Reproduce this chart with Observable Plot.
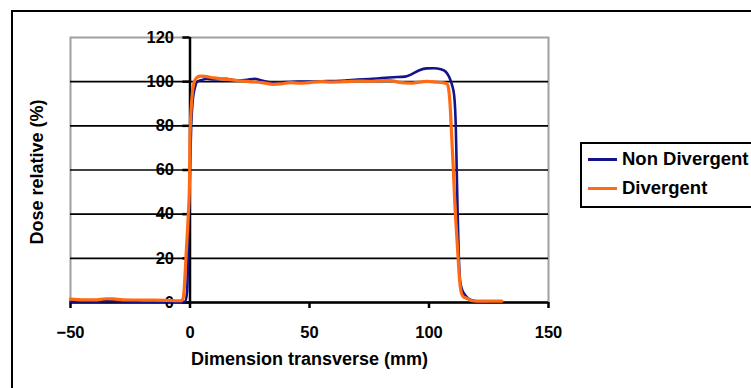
<!DOCTYPE html>
<html><head><meta charset="utf-8">
<script src="https://cdn.jsdelivr.net/npm/d3@7"></script>
<script src="https://cdn.jsdelivr.net/npm/@observablehq/plot@0.6"></script>
<style>
body{margin:0;background:#fff;font-family:"Liberation Sans",Arial,sans-serif;}
#wrap{position:relative;width:751px;height:388px;overflow:hidden;background:#fff;}
#wrap svg{position:absolute;left:0;top:0;}
#border{position:absolute;left:11px;top:10px;width:800px;height:420px;border:2.5px solid #000;box-sizing:border-box;pointer-events:none;}
#legend{position:absolute;left:580px;top:142px;width:220px;height:66px;border:2.5px solid #000;box-sizing:border-box;background:#fff;}
.row{position:absolute;left:6px;height:20px;display:flex;align-items:center;font-weight:bold;font-size:18.5px;color:#000;white-space:nowrap;}
.sw{width:29px;height:3px;margin-right:5px;}
</style>
</head><body>
<div id="wrap"></div>
<script>
const seriesNames = ["Non Divergent", "Divergent"];
const xTicks = [-50, 0, 50, 100, 150];
const yTicks = [0, 20, 40, 60, 80, 100, 120];
const xTitle = "Dimension transverse (mm)";
const yTitle = "Dose relative (%)";

const nonDivX = [-50,-45,-40,-35,-30,-20,-10,-5,-3,-2,-1.2,-0.8,-0.4,0,0.5,1.2,2,3,5,7,10,15,20,24,27,30,35,40,45,50,55,60,65,70,75,80,85,90,93,96,99,102,105,107,108.5,109.5,110.5,111.2,111.6,112,112.5,113,113.8,115,116.5,118,120,125];
const nonDivY = [0.4,0.5,0.4,0.6,0.5,0.4,0.4,0.3,0.3,0.5,5,20,40,60,80,92,97,100,100.8,101.3,101,101.3,100.5,100.8,101.3,100.5,99.5,99.8,100,100,100.2,100.3,100.5,101,101.2,101.6,102,102.3,103.5,105.2,106,106.1,105.6,104.5,102,99,94,80,60,40,20,10,6,3.5,1.8,1,0.5,0.4];

const divX = [-50,-45,-40,-35,-32,-28,-20,-10,-5,-4,-3,-2.5,-2,-1.7,-1.2,-0.7,-0.2,0,0.5,1,1.8,3,4.2,6,10,15,20,25,30,35,38,42,46,50,55,59,65,70,75,80,84,87,92,96,99,103,106,107.5,108,108.8,109.5,110.2,110.8,111.5,112.2,112.8,113.4,114.2,116,118,120,125,130.5];
const divY = [1.5,1.2,1.2,1.7,1.6,1.2,1.1,1.0,0.8,0.8,1.5,5,14,20,30,40,55,75,88,95,100,102,102.5,102.4,101.7,101,100.5,100,99.6,98.8,99,99.6,99.3,99.6,100,99.8,100,100.3,100.2,100.4,100.5,99.8,99.3,99.8,100.1,99.8,99.5,99,98,90,75,60,45,32,20,10,5,2.8,1.8,0.8,0.6,0.6,0.6];

const colors = ["#14148a", "#ff6a14"];

const rows = [
  ...nonDivX.map((x, i) => ({x, y: nonDivY[i], s: seriesNames[0]})),
  ...divX.map((x, i) => ({x, y: divY[i], s: seriesNames[1]}))
];

const plot = Plot.plot({
  width: 751, height: 388,
  marginLeft: 70, marginRight: 203, marginTop: 37, marginBottom: 86,
  style: {background: "transparent", color: "black", fontFamily: "'Liberation Sans', Arial, sans-serif"},
  x: {domain: [-50, 150]},
  y: {domain: [0, 120], axis: null},
  color: {domain: seriesNames, range: colors},
  marks: [
    Plot.frame({stroke: "#a0a0a0", strokeWidth: 2}),
    Plot.ruleY(yTicks.filter(v => v > 0 && v < 120), {stroke: "black", strokeWidth: 1.6}),
    Plot.ruleY(yTicks, {x1: -3, x2: 0, stroke: "black", strokeWidth: 2.5}),
    Plot.ruleX([0], {y1: 0, y2: 120, stroke: "black", strokeWidth: 2.5}),
    Plot.axisX(xTicks, {tickSize: 6, tickPadding: 18, fontSize: 16.5, fontWeight: "bold", label: null, stroke: "black", strokeWidth: 2.5, fill: "black"}),
    Plot.ruleY([0], {stroke: "black", strokeWidth: 2.5}),
    Plot.text(yTicks, {x: 0, y: d => d, text: d => String(d), textAnchor: "end", dx: -16, fontSize: 16.5, fontWeight: "bold", fill: "black"}),
    Plot.line(rows.filter(d => d.s === seriesNames[0]), {x: "x", y: "y", stroke: "s", strokeWidth: 2.6, curve: "monotone-x"}),
    Plot.line(rows.filter(d => d.s === seriesNames[1]), {x: "x", y: "y", stroke: "s", strokeWidth: 3.2, curve: "monotone-x"}),
    Plot.text([xTitle], {frameAnchor: "bottom", dy: 62, text: d => d, fontSize: 18, fontWeight: "bold", fill: "black"}),
    Plot.text([yTitle], {frameAnchor: "left", textAnchor: "middle", dx: -33, dy: 2, rotate: -90, text: d => d, fontSize: 18, fontWeight: "bold", fill: "black"})
  ]
});

const wrap = document.getElementById("wrap");
wrap.appendChild(plot);
const border = document.createElement("div");
border.id = "border";
wrap.appendChild(border);
const legend = document.createElement("div");
legend.id = "legend";
seriesNames.forEach((name, i) => {
  const row = document.createElement("div");
  row.className = "row";
  row.style.top = (i === 0 ? 5 : 34) + "px";
  const sw = document.createElement("span");
  sw.className = "sw";
  sw.style.background = colors[i];
  row.appendChild(sw);
  row.appendChild(document.createTextNode(name));
  legend.appendChild(row);
});
wrap.appendChild(legend);
</script>
</body></html>
